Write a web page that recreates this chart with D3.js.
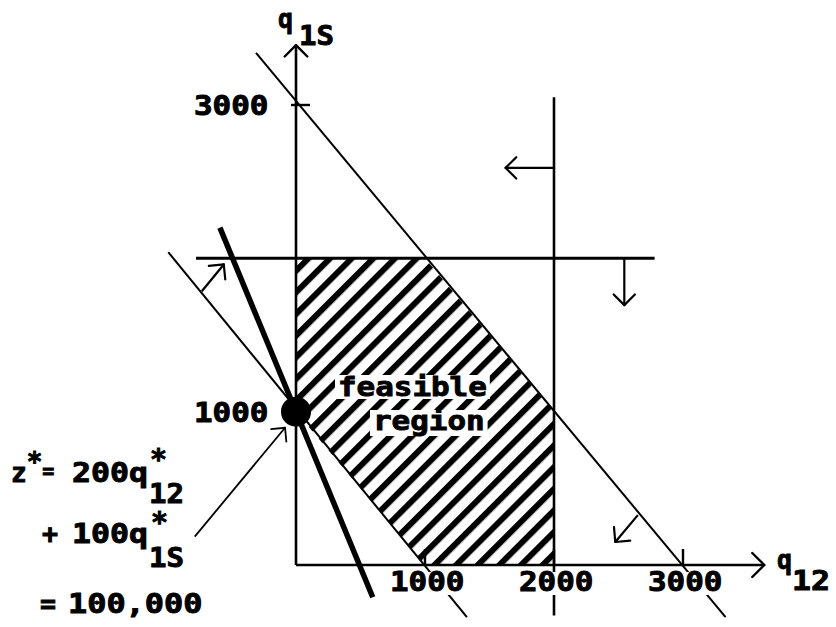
<!DOCTYPE html>
<html><head><meta charset="utf-8">
<script src="https://cdn.jsdelivr.net/npm/d3@7"></script>
<style>html,body{margin:0;padding:0;background:#fff;}svg{display:block;}</style>
</head><body>
<svg id="chart" width="836" height="627"></svg>
<script>
// ---- data (q12, q1S) ----
const xTickValues = [1000, 2000, 3000];
const yTickValues = [1000, 3000];
const xTickLabels = ["1000", "2000", "3000"];
const yTickLabels = ["1000", "3000"];
const feasibleRegion = [[0,2000],[1000,2000],[2000,1000],[2000,0],[1000,0],[0,1000]];
const constraintSum3000 = [[-310,3340],[3330,-340]];   // q12 + q1S <= 3000
const constraintQ1S2000 = [[-775,2000],[2780,2000]];    // q1S <= 2000
const constraintQ12_2000 = [[2000,3050],[2000,-330]];   // q12 <= 2000
const constraintSum1000 = [[-990,2040],[1325,-340]];    // q12 + q1S >= 1000
const objectiveLine = [[-590,2200],[595,-210]];         // 200 q12 + 100 q1S = 100,000
const optimumPoint = [0,1000];
const directionArrows = [
  {from:[2000,2590], to:[1625,2590]},
  {from:[2545,2005], to:[2545,1695]},
  {from:[2650,325],  to:[2475,150]},
  {from:[-730,1785], to:[-560,1960]}
];
const pointerArrow = {from:[-785,185], to:[-85,895]};
const axisMax = {x:[0,3630], y:[0,3390]};

// ---- scales ----
const x = d3.scaleLinear().domain([0,3000]).range([296,683]);
const y = d3.scaleLinear().domain([0,3000]).range([565,105]);

const svg = d3.select("#chart");
const FONT = "'DejaVu Sans Mono', monospace";
const CW = 18.6;

const defs = svg.append("defs");
const pat = defs.append("pattern").attr("id","hatch").attr("patternUnits","userSpaceOnUse")
  .attr("width",15.3).attr("height",15.3).attr("patternTransform","rotate(-45)");
pat.append("rect").attr("x",0).attr("y",0).attr("width",15.3).attr("height",6).attr("fill","#000");

// feasible region hatch
svg.append("path")
  .attr("d", d3.line().x(d=>x(d[0])).y(d=>y(d[1]))(feasibleRegion) + "Z")
  .attr("fill","url(#hatch)").attr("stroke","none");

function seg(pts, w){
  svg.append("line")
    .attr("x1",x(pts[0][0])).attr("y1",y(pts[0][1]))
    .attr("x2",x(pts[1][0])).attr("y2",y(pts[1][1]))
    .attr("stroke","#000").attr("stroke-width",w).attr("stroke-linecap","butt");
}
function head(px, py, ang, len, w){
  [Math.PI*0.75, -Math.PI*0.75].forEach(a=>{
    svg.append("line").attr("x1",px).attr("y1",py)
      .attr("x2",px+len*Math.cos(ang+a)).attr("y2",py+len*Math.sin(ang+a))
      .attr("stroke","#000").attr("stroke-width",w).attr("stroke-linecap","round");
  });
}
function arrow(a, w, len){
  const x1=x(a.from[0]), y1=y(a.from[1]), x2=x(a.to[0]), y2=y(a.to[1]);
  svg.append("line").attr("x1",x1).attr("y1",y1).attr("x2",x2).attr("y2",y2)
    .attr("stroke","#000").attr("stroke-width",w);
  head(x2,y2,Math.atan2(y2-y1,x2-x1),len,w);
}

// constraint lines
seg(constraintSum3000, 2);
seg(constraintQ1S2000, 3);
seg(constraintQ12_2000, 2.6);
seg(constraintSum1000, 2);
seg(objectiveLine, 5.5);

// axes
seg([[0,0],[0,axisMax.y[1]]], 2.6);
seg([[0,0],[axisMax.x[1],0]], 2.6);
head(x(0), y(axisMax.y[1]), -Math.PI/2, 16, 2.4);
head(x(axisMax.x[1]), y(0), 0, 17, 2.4);

// ticks
xTickValues.forEach(v=>{
  svg.append("line").attr("x1",x(v)).attr("x2",x(v)).attr("y1",y(0)).attr("y2",y(0)-16)
    .attr("stroke","#000").attr("stroke-width",2.4);
});
yTickValues.forEach(v=>{
  svg.append("line").attr("x1",x(0)-5).attr("x2",x(0)+14).attr("y1",y(v)).attr("y2",y(v))
    .attr("stroke","#000").attr("stroke-width",2.4);
});

// arrows
directionArrows.forEach(a=>arrow(a,2.2,15));
arrow(pointerArrow,1.8,14);

// optimum point
svg.append("circle").attr("cx",x(optimumPoint[0])).attr("cy",y(optimumPoint[1])).attr("r",15).attr("fill","#000");

// text helper
function txt(px, py, s, opts={}){
  const cw = opts.cw || CW;
  const t = svg.append("text").attr("x",px).attr("y",py).text(s)
    .attr("font-family",FONT).attr("font-weight","bold").attr("font-size",opts.size||26)
    .attr("fill","#000").attr("stroke","#000").attr("stroke-width",opts.sw==null?0.9:opts.sw)
    .attr("textLength", s.length*cw).attr("lengthAdjust","spacingAndGlyphs");
  if(opts.anchor) t.attr("text-anchor",opts.anchor);
  if(opts.bg){
    const b = t.node().getBBox();
    svg.insert("rect","text").attr("x",b.x-opts.bg[0]).attr("y",b.y+opts.bg[1])
      .attr("width",b.width+2*opts.bg[0]).attr("height",b.height-opts.bg[1]+opts.bg[2]).attr("fill","#fff");
  }
  return t;
}

// tick labels
xTickValues.forEach((v,i)=>{
  txt(x(v)-37+2, y(0)+26, xTickLabels[i], {bg:[3,5,-2]});
});
yTickValues.forEach((v,i)=>{
  txt(x(0)-102, y(v)+10, yTickLabels[i]);
});

// region label
txt(338, 396, "feasible", {bg:[3,3,-3]});
txt(373, 430, "region", {bg:[3,4,0]});

// axis labels
txt(278, 28, "q", {cw:15});
txt(299, 45, "1S", {cw:17.5});
txt(777, 569, "q", {cw:15});
txt(792, 590, "12", {cw:19});

// objective formula
const zt = txt(11, 482, "z", {cw:16});
zt.append("tspan").attr("dy",-11).attr("font-size",26).text("*");
zt.append("tspan").attr("dy",7).attr("font-size",20).text("=");
zt.attr("textLength",null);
txt(72, 482, "200q", {cw:19});
txt(150, 469, "*", {cw:17, size:28});
txt(149, 503, "12", {cw:17.5});
txt(42, 543, "+", {cw:16});
txt(72, 543, "100q", {cw:19});
txt(151, 532, "*", {cw:17, size:28});
txt(149, 567, "1S", {cw:17.5});
txt(40, 613, "=", {cw:16});
txt(68, 613, "100,000", {cw:19.2});
</script>
</body></html>
